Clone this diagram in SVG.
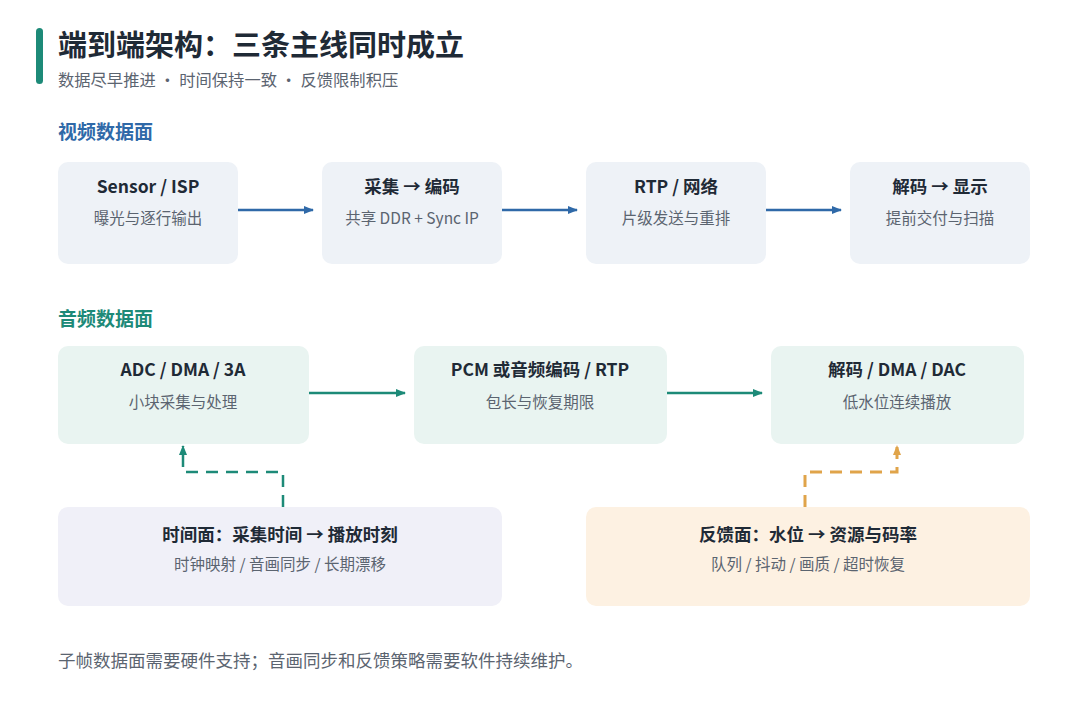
<svg xmlns="http://www.w3.org/2000/svg" width="1080" height="708" viewBox="0 0 1080 708">
<defs>
<style>
text{font-family:"Noto Sans CJK SC","Noto Sans",sans-serif}
.t{font-size:17.5px;font-weight:700;fill:#1f2a36;text-anchor:middle}
.s{font-size:15.5px;fill:#5b6470;text-anchor:middle}
.v{fill:#eef2f7}.a{fill:#e9f4f1}.tm{fill:#f0f0f8}.fb{fill:#fdf1e2}
.bl{stroke:#2f69a8;stroke-width:2.5;fill:none}
.gl{stroke:#1d8a78;stroke-width:2.5;fill:none}
</style>
<marker id="mb" markerWidth="10" markerHeight="10" refX="9" refY="5" orient="auto" markerUnits="userSpaceOnUse"><path d="M0,1 L10,5 L0,9Z" fill="#2f69a8"/></marker>
<marker id="mg" markerWidth="10" markerHeight="10" refX="9" refY="5" orient="auto" markerUnits="userSpaceOnUse"><path d="M0,1 L10,5 L0,9Z" fill="#1d8a78"/></marker>
<marker id="mo" markerWidth="10" markerHeight="10" refX="9" refY="5" orient="auto" markerUnits="userSpaceOnUse"><path d="M0,1 L10,5 L0,9Z" fill="#e0a44a"/></marker>
</defs>
<rect width="1080" height="708" fill="#fff"/>
<rect x="36" y="28" width="7" height="56" rx="3.5" fill="#1d8a78"/>
<text x="58" y="56" font-size="29" font-weight="700" fill="#1f2a36">端到端架构：三条主线同时成立</text>
<text x="58" y="86" font-size="16.3" fill="#5b6470">数据尽早推进 · 时间保持一致 · 反馈限制积压</text>
<text x="58" y="139" font-size="19" font-weight="700" fill="#2f69a8">视频数据面</text>
<text x="58" y="326" font-size="19" font-weight="700" fill="#1d8a78">音频数据面</text>
<g id="v1"><rect class="v" x="58" y="162" width="180" height="102" rx="10"/><text class="t" x="148" y="193">Sensor / ISP</text><text class="s" x="148" y="224">曝光与逐行输出</text></g>
<g id="v2"><rect class="v" x="322" y="162" width="180" height="102" rx="10"/><text class="t" x="412" y="193">采集 → 编码</text><text class="s" x="412" y="224">共享 DDR + Sync IP</text></g>
<g id="v3"><rect class="v" x="586" y="162" width="180" height="102" rx="10"/><text class="t" x="676" y="193">RTP / 网络</text><text class="s" x="676" y="224">片级发送与重排</text></g>
<g id="v4"><rect class="v" x="850" y="162" width="180" height="102" rx="10"/><text class="t" x="940" y="193">解码 → 显示</text><text class="s" x="940" y="224">提前交付与扫描</text></g>
<g id="a1"><rect class="a" x="58" y="346" width="251" height="98" rx="10"/><text class="t" x="183" y="376">ADC / DMA / 3A</text><text class="s" x="183" y="408">小块采集与处理</text></g>
<g id="a2"><rect class="a" x="414" y="346" width="253" height="98" rx="10"/><text class="t" x="540" y="376">PCM 或音频编码 / RTP</text><text class="s" x="540" y="408">包长与恢复期限</text></g>
<g id="a3"><rect class="a" x="771" y="346" width="253" height="98" rx="10"/><text class="t" x="897" y="376">解码 / DMA / DAC</text><text class="s" x="897" y="408">低水位连续播放</text></g>
<g id="time"><rect class="tm" x="58" y="507" width="444" height="99" rx="10"/><text class="t" x="280" y="541" font-size="20">时间面：采集时间 → 播放时刻</text><text class="s" x="280" y="570" font-size="16">时钟映射 / 音画同步 / 长期漂移</text></g>
<g id="feedback"><rect class="fb" x="586" y="507" width="444" height="99" rx="10"/><text class="t" x="808" y="541" font-size="20">反馈面：水位 → 资源与码率</text><text class="s" x="808" y="570" font-size="16">队列 / 抖动 / 画质 / 超时恢复</text></g>
<g id="connectors">
<line class="bl" x1="238" y1="210" x2="313" y2="210" marker-end="url(#mb)"/>
<line class="bl" x1="502" y1="210" x2="577" y2="210" marker-end="url(#mb)"/>
<line class="bl" x1="766" y1="210" x2="841" y2="210" marker-end="url(#mb)"/>
<line class="gl" x1="309" y1="393" x2="405" y2="393" marker-end="url(#mg)"/>
<line class="gl" x1="667" y1="393" x2="762" y2="393" marker-end="url(#mg)"/>
<path class="gl" d="M283,507 V472 H183 V446" stroke-width="3" stroke-dasharray="12,8" marker-end="url(#mg)"/>
<path d="M805,507 V472 H897 V446" fill="none" stroke="#e0a44a" stroke-width="3" stroke-dasharray="12,8" marker-end="url(#mo)"/>
</g>
<text x="58" y="667" font-size="17.5" fill="#5b6470">子帧数据面需要硬件支持；音画同步和反馈策略需要软件持续维护。</text>
</svg>
